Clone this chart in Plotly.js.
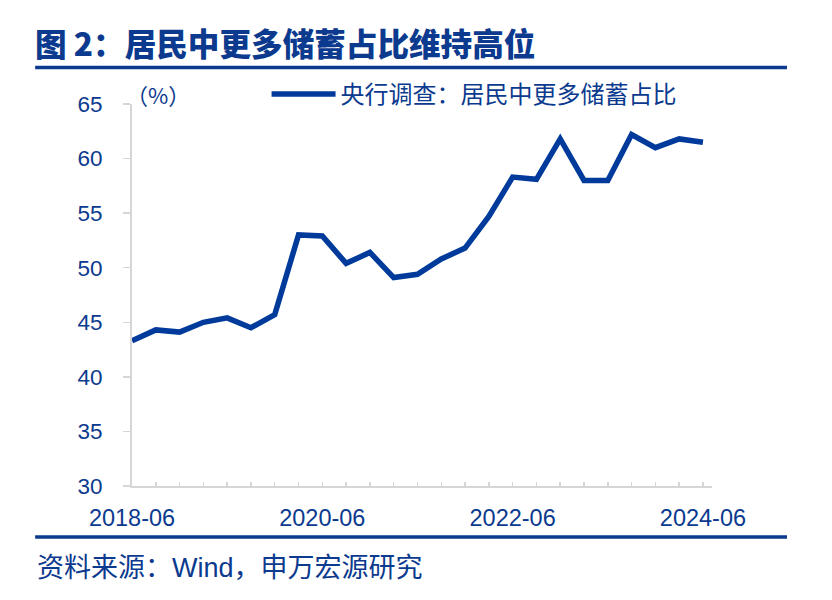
<!DOCTYPE html>
<html>
<head>
<meta charset="utf-8">
<script src="https://cdn.plot.ly/plotly-3.0.1.min.js"></script>
<style>html,body{margin:0;padding:0;background:#fff;}#chart{width:832px;height:600px;}</style>
</head>
<body>
<div id="chart"></div>
<script>
// ---- data ----
const quarters = ["2018-06","2018-09","2018-12","2019-03","2019-06","2019-09","2019-12",
  "2020-03","2020-06","2020-09","2020-12","2021-03","2021-06","2021-09","2021-12",
  "2022-03","2022-06","2022-09","2022-12","2023-03","2023-06","2023-09","2023-12",
  "2024-03","2024-06"];
const moreSavingShare = [43.3,44.3,44.1,45.0,45.4,44.5,45.7,53.0,52.9,50.4,51.4,49.1,49.4,
  50.8,51.8,54.7,58.3,58.1,61.8,58.0,58.0,62.2,61.0,61.8,61.5];
const xTickLabels = ["2018-06","2020-06","2022-06","2024-06"];
const yTicks = [30,35,40,45,50,55,60,65];
const seriesName = "央行调查：居民中更多储蓄占比";
const titleText = "图 2：居民中更多储蓄占比维持高位";
const sourceText = "资料来源：Wind，申万宏源研究";
const unitText = "（%）";

// ---- style ----
const NAVY = "#0b3a8e";
const LINE = "#003a9b";
const GRAY = "#d6d6d6";
const LATIN = "Liberation Sans, Arial, Noto Sans CJK SC, sans-serif";
const CJK = "Noto Sans CJK SC, Liberation Sans, sans-serif";
const xMax = quarters.length - 1 + 0.38;

const trace = {
  x: quarters, y: moreSavingShare, type: "scatter", mode: "lines",
  name: seriesName, line: {color: LINE, width: 5.5}, hoverinfo: "skip"
};

const layout = {
  width: 832, height: 600,
  margin: {l: 132, r: 120, t: 104, b: 114},
  paper_bgcolor: "#fff", plot_bgcolor: "#fff",
  title: {
    text: titleText, xref: "container", yref: "container",
    x: 35/832, xanchor: "left", y: 1 - 45/600, yanchor: "middle",
    font: {family: CJK, size: 31.6, color: NAVY, weight: 900}
  },
  showlegend: true,
  legend: {
    orientation: "h", x: 0.232, xanchor: "left", y: 1.025, yanchor: "middle",
    font: {family: CJK, size: 24, color: NAVY}, itemwidth: 64, bgcolor: "rgba(0,0,0,0)"
  },
  xaxis: {
    type: "category", categoryorder: "array", categoryarray: quarters,
    range: [0, xMax], tickmode: "array", tickvals: quarters,
    ticktext: quarters.map(q => xTickLabels.includes(q) ? q : ""),
    ticks: "inside", ticklen: 4, tickwidth: 1.5, tickcolor: GRAY,
    showline: true, linecolor: GRAY, linewidth: 2,
    showgrid: false, zeroline: false, ticklabelstandoff: 10,
    tickfont: {family: LATIN, size: 23.5, color: NAVY}, fixedrange: true
  },
  xaxis2: {
    type: "linear", overlaying: "x", anchor: "y", side: "bottom",
    range: [0, xMax], tickmode: "array",
    tickvals: xTickLabels.map(l => quarters.indexOf(l)),
    ticks: "outside", ticklen: 8, tickwidth: 1.5, tickcolor: GRAY,
    showticklabels: false, showline: false, showgrid: false, zeroline: false
  },
  yaxis: {
    range: [30, 65], tickmode: "array", tickvals: yTicks,
    ticks: "outside", ticklen: 7, tickwidth: 1.5, tickcolor: GRAY,
    showline: true, linecolor: GRAY, linewidth: 2,
    showgrid: false, zeroline: false, ticklabelstandoff: 16,
    tickfont: {family: LATIN, size: 22.5, color: NAVY}, fixedrange: true
  },
  shapes: [
    {type: "line", xref: "paper", yref: "paper", x0: -0.167, x1: 1.1293, y0: 1.0955, y1: 1.0955,
     line: {color: NAVY, width: 3.5}},
    {type: "line", xref: "paper", yref: "paper", x0: -0.167, x1: 1.1293, y0: -0.1335, y1: -0.1335,
     line: {color: NAVY, width: 3.5}}
  ],
  annotations: [
    {text: unitText, xref: "paper", yref: "paper", x: -0.014, y: 1.025, xanchor: "left", yanchor: "middle",
     showarrow: false, font: {family: CJK, size: 22, color: NAVY}},
    {text: sourceText, xref: "paper", yref: "paper", x: -0.167, y: -0.2147, xanchor: "left", yanchor: "middle",
     showarrow: false, font: {family: LATIN, size: 27, color: NAVY}}
  ]
};

Plotly.newPlot("chart", [trace], layout, {staticPlot: true, displayModeBar: false});
</script>
</body>
</html>
